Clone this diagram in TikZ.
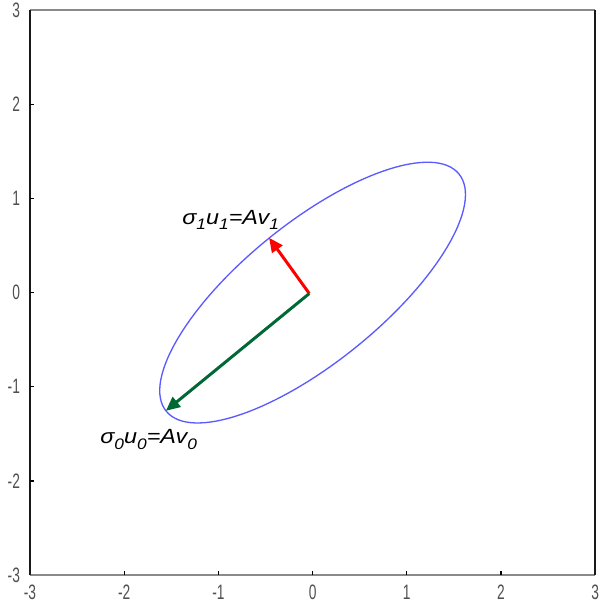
\documentclass[tikz,border=0pt]{standalone}
\usepackage{fontspec}
\setmainfont{Liberation Sans}
\newfontfamily\tickfont[FakeStretch=0.66]{Liberation Sans}
\newfontfamily\labfont[FakeStretch=1.14]{Liberation Sans}
\usetikzlibrary{arrows.meta,shapes.geometric}
\definecolor{ellblue}{RGB}{90,90,255}
\definecolor{vgreen}{RGB}{0,104,52}
\definecolor{spinegray}{RGB}{138,138,138}
\definecolor{tickgray}{RGB}{80,80,80}
\newcommand\mysub[1]{\raisebox{-0.28em}{\fontsize{4.6}{5}\selectfont #1}}
\tikzset{
  spinedark/.style={line width=0.6pt, black!90},
  spinelight/.style={line width=0.7pt, spinegray},
  tickmark/.style={line width=0.35pt, black},
  ticklab/.style={font=\tickfont\fontsize{6.3}{7}\selectfont, text=tickgray, inner sep=0pt},
  vecarrow/.style={line width=0.9pt, -{Triangle[length=4.3pt,width=3.8pt]}},
  veclab/.style={font=\labfont\itshape\fontsize{6.2}{7}\selectfont, inner sep=0pt}
}
\begin{document}
\begin{tikzpicture}
\useasboundingbox[fill=white] (-3.3185,-3.3165) rectangle (3.104,3.106);
% spines
\coordinate (bl) at (-3,-3);
\coordinate (br) at (3,-3);
\coordinate (tl) at (-3,3);
\coordinate (tr) at (3,3);
\draw[spinelight] (bl) -- (br);
\draw[spinelight] (tl) -- (tr);
\draw[spinedark] (bl) -- (tl);
\draw[spinedark] (br) -- (tr);
% ticks
\foreach \v in {-2,-1,0,1,2}{
  \draw[tickmark] (-3,\v) -- ++(0.045,0);
  \draw[tickmark] (\v,-3) -- ++(0,0.045);
}
% tick labels
\foreach \v in {-3,-2,-1,0,1,2,3}{
  \node[ticklab, anchor=east] (yl\v) at (-3.1,\v) {\v};
  \node[ticklab] (xl\v) at (\v,-3.18) {\v};
}
% ellipse
\node[draw=ellblue, line width=0.4pt, ellipse, minimum width=4cm, minimum height=1.48cm, inner sep=0pt, rotate=39] (ell) at (0,0) {};
% vectors
\coordinate (o) at (-0.035,-0.01);
\coordinate (t1) at (-0.462,0.582);
\coordinate (t0) at (-1.558,-1.255);
\draw[vecarrow, red] (o) -- (t1);
\draw[vecarrow, vgreen] (o) -- (t0);
% labels
\node[veclab] (l1) at (-0.87,0.77) {σ\mysub{1}u\mysub{1}=Av\mysub{1}};
\node[veclab] (l0) at (-1.74,-1.556) {σ\mysub{0}u\mysub{0}=Av\mysub{0}};
\end{tikzpicture}
\end{document}
